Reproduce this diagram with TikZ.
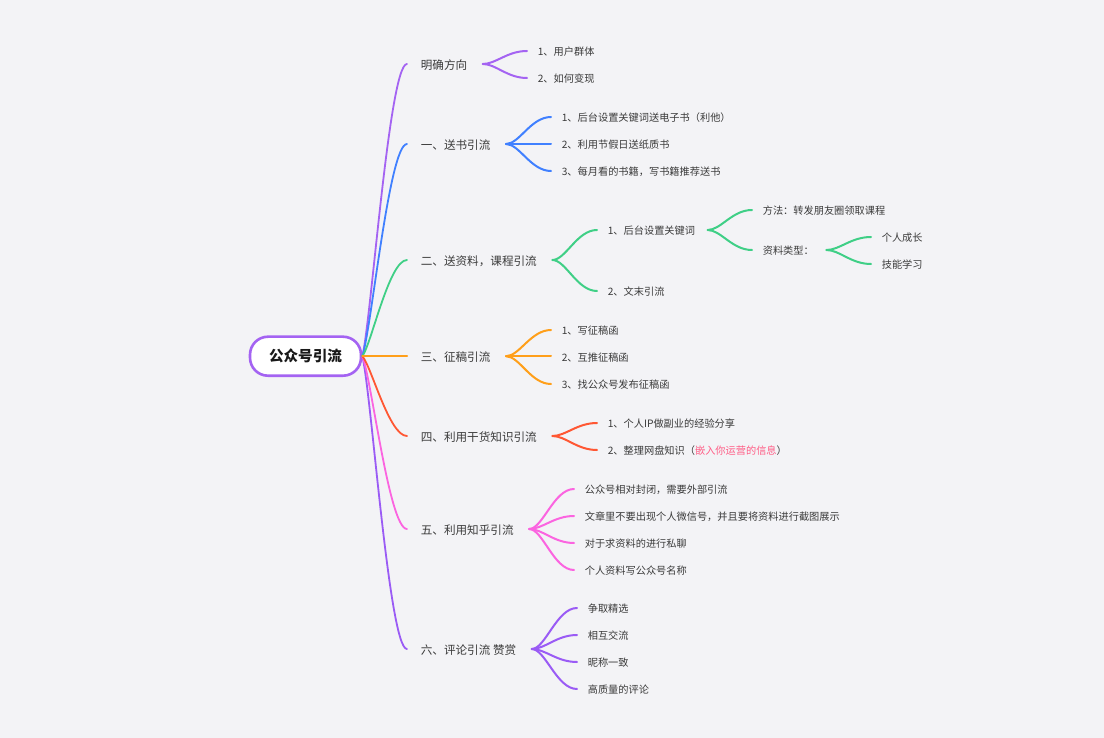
\documentclass[tikz,border=0pt]{standalone}
\usepackage{fontspec}
\setmainfont{Noto Sans CJK SC}
\usetikzlibrary{calc}
\definecolor{bgc}{HTML}{F3F3F6}
\definecolor{txt}{HTML}{3A3A3A}
\definecolor{cpurple}{HTML}{A463F2}
\definecolor{cblue}{HTML}{4080FF}
\definecolor{cgreen}{HTML}{3FCF86}
\definecolor{corange}{HTML}{FF9F1A}
\definecolor{cred}{HTML}{FF5733}
\definecolor{cpink}{HTML}{FB64E0}
\definecolor{cviolet}{HTML}{9A5BF5}
\definecolor{cnote}{HTML}{FF5C85}
\tikzset{
  rootbox/.style={draw=cpurple,line width=2.6pt,fill=white,rounded corners=18pt,minimum width=111pt,minimum height=39pt,inner sep=0pt,font=\fontsize{14.6}{17}\selectfont\bfseries,text=black!90},
  topic/.style={anchor=west,inner xsep=13.6pt,inner ysep=0pt,text height=11pt,text depth=0.5pt,font=\fontsize{11.6}{14}\selectfont,text=txt},
  leaf/.style={anchor=west,inner xsep=10.6pt,inner ysep=0pt,text height=10pt,text depth=0.2pt,font=\fontsize{10.2}{12}\selectfont,text=txt},
  mainlink/.style={line width=1.8pt,line cap=round},
  sublink/.style={line width=2pt,line cap=round}
}
% root branch: steep start, tight bend into the topic
\newcommand{\rootlink}[3]{\draw[mainlink,#1] let \p1=(#2),\p2=(#3) in (\p1) .. controls ({\x1+0.2*(\x2-\x1)},{\y1+0.12*(\y2-\y1)}) and ({\x1+0.6*(\x2-\x1)},\y2) .. (\p2);}
% sub branch: S curve, leaving a small gap after the parent's node
\newcommand{\sublink}[3]{\draw[sublink,#1] let \p1=($(#2)+(1.8,0)$),\p2=(#3) in (\p1) .. controls ({\x1+0.3*(\x2-\x1)},\y1) and ({\x1+0.55*(\x2-\x1)},\y2) .. (\p2);}
\begin{document}
\begin{tikzpicture}[x=1pt,y=-1pt]
\fill[bgc] (0,0) rectangle (1104,738);
\useasboundingbox (0,0) rectangle (1104,738);

\node[rootbox] (root) at (305.5,356.2) {公众号引流};

\node[topic] (t0) at (407,64) {明确方向};
\node[topic] (t1) at (407,144) {一、送书引流};
\node[topic] (t2) at (407,260) {二、送资料，课程引流};
\node[topic] (t3) at (407,356.2) {三、征稿引流};
\node[topic] (t4) at (407,436) {四、利用干货知识引流};
\node[topic] (t5) at (407,529) {五、利用知乎引流};
\node[topic] (t6) at (407,649) {六、评论引流 赞赏};

\node[leaf] (a1) at (527,51) {1、用户群体};
\node[leaf] (a2) at (527,78) {2、如何变现};

\node[leaf] (b1) at (551,117) {1、后台设置关键词送电子书（利他）};
\node[leaf] (b2) at (551,144) {2、利用节假日送纸质书};
\node[leaf] (b3) at (551,171) {3、每月看的书籍，写书籍推荐送书};

\node[leaf] (c1) at (597,230) {1、后台设置关键词};
\node[leaf] (c2) at (597,291) {2、文末引流};
\node[leaf] (c11) at (752,210) {方法：转发朋友圈领取课程};
\node[leaf] (c12) at (752,250) {资料类型：};
\node[leaf] (c121) at (871,237) {个人成长};
\node[leaf] (c122) at (871,264) {技能学习};

\node[leaf] (d1) at (551,330) {1、写征稿函};
\node[leaf] (d2) at (551,356.2) {2、互推征稿函};
\node[leaf] (d3) at (551,384) {3、找公众号发布征稿函};

\node[leaf] (e1) at (597,423) {1、个人IP做副业的经验分享};
\node[leaf] (e2) at (597,450) {2、整理网盘知识（\textcolor{cnote}{嵌入你运营的信息}）};

\node[leaf] (f1) at (574,489) {公众号相对封闭，需要外部引流};
\node[leaf] (f2) at (574,516) {文章里不要出现个人微信号，并且要将资料进行截图展示};
\node[leaf] (f3) at (574,543) {对于求资料的进行私聊};
\node[leaf] (f4) at (574,570) {个人资料写公众号名称};

\node[leaf] (g1) at (577,608) {争取精选};
\node[leaf] (g2) at (577,635) {相互交流};
\node[leaf] (g3) at (577,662) {昵称一致};
\node[leaf] (g4) at (577,689) {高质量的评论};

\rootlink{cviolet}{root.east}{t6.west}
\rootlink{cpink}{root.east}{t5.west}
\rootlink{cred}{root.east}{t4.west}
\rootlink{cpurple}{root.east}{t0.west}
\rootlink{cblue}{root.east}{t1.west}
\rootlink{cgreen}{root.east}{t2.west}
\draw[mainlink,corange,line width=2.2pt] (root.east) -- (t3.west);

\sublink{cpurple}{t0.east}{a1.west}
\sublink{cpurple}{t0.east}{a2.west}
\sublink{cblue}{t1.east}{b1.west}
\sublink{cblue}{t1.east}{b2.west}
\sublink{cblue}{t1.east}{b3.west}
\sublink{cgreen}{t2.east}{c1.west}
\sublink{cgreen}{t2.east}{c2.west}
\sublink{cgreen}{c1.east}{c11.west}
\sublink{cgreen}{c1.east}{c12.west}
\sublink{cgreen}{c12.east}{c121.west}
\sublink{cgreen}{c12.east}{c122.west}
\sublink{corange}{t3.east}{d1.west}
\sublink{corange}{t3.east}{d2.west}
\sublink{corange}{t3.east}{d3.west}
\sublink{cred}{t4.east}{e1.west}
\sublink{cred}{t4.east}{e2.west}
\sublink{cpink}{t5.east}{f1.west}
\sublink{cpink}{t5.east}{f2.west}
\sublink{cpink}{t5.east}{f3.west}
\sublink{cpink}{t5.east}{f4.west}
\sublink{cviolet}{t6.east}{g1.west}
\sublink{cviolet}{t6.east}{g2.west}
\sublink{cviolet}{t6.east}{g3.west}
\sublink{cviolet}{t6.east}{g4.west}
\end{tikzpicture}
\end{document}
